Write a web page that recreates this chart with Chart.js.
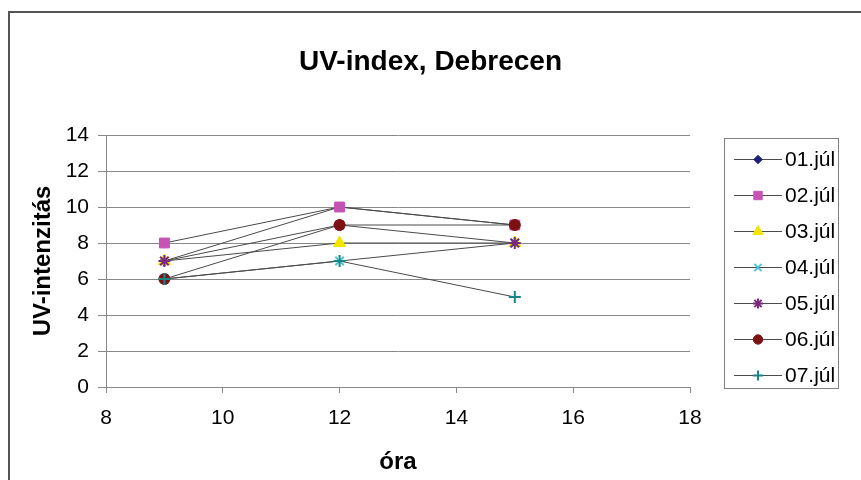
<!DOCTYPE html>
<html><head><meta charset="utf-8">
<script src="https://cdn.jsdelivr.net/npm/chart.js@4/dist/chart.umd.min.js"></script>
<style>
html,body{margin:0;padding:0;background:#fff;}
#wrap{position:relative;width:861px;height:480px;overflow:hidden;}
#frame{position:absolute;left:8px;top:11px;right:-4px;bottom:-4px;border-left:2px solid #555;border-top:2px solid #555;pointer-events:none;}
canvas{position:absolute;left:0;top:0;}
</style></head><body>
<div id="wrap"><canvas id="c" width="861" height="480"></canvas><div id="frame"></div></div>
<script>
// ---- data ----
const hours = [9, 12, 15];
const seriesNames = ['01.júl', '02.júl', '03.júl', '04.júl', '05.júl', '06.júl', '07.júl'];
const jul01 = [7, 10, 9];
const jul02 = [8, 10, 9];
const jul03 = [7, 8, 8];
const jul04 = [6, 7, 8];
const jul05 = [7, 9, 8];
const jul06 = [6, 9, 9];
const jul07 = [6, 7, 5];
const xTickValues = [8, 10, 12, 14, 16, 18];
const yTickValues = [0, 2, 4, 6, 8, 10, 12, 14];
const chartTitle = 'UV-index, Debrecen';
const xTitle = 'óra';
const yTitle = 'UV-intenzitás';

// ---- styles ----
const FONT = "'Liberation Sans', Arial, sans-serif";
const seriesValues = [jul01, jul02, jul03, jul04, jul05, jul06, jul07];
const styles = [
  {c:'#1f1f78', ps:'rectRot', r:5, bw:1},
  {c:'#c653b4', ps:'rect', r:7, bw:1},
  {c:'#f2e600', ps:'triangle', r:7, bw:1},
  {c:'#4cc6d6', ps:'crossRot', r:6, bw:2},
  {c:'#7a2a7a', ps:'star', r:6, bw:2},
  {c:'#7c1212', ps:'circle', r:5.5, bw:1},
  {c:'#1a8585', ps:'cross', r:6, bw:2}
];
const LINE = '#4a4a4a';

const datasets = seriesNames.map((name, i) => ({
  label: name,
  data: hours.map((h, k) => ({x: h, y: seriesValues[i][k]})),
  borderColor: LINE,
  borderWidth: 1,
  pointStyle: styles[i].ps,
  pointRadius: styles[i].r,
  pointHoverRadius: styles[i].r,
  pointBackgroundColor: styles[i].c,
  pointBorderColor: styles[i].c,
  pointBorderWidth: styles[i].bw,
  order: seriesNames.length - 1 - i,
  tension: 0,
  fill: false
}));

const boxLegend = {
  id: 'boxLegend',
  afterDraw(chart) {
    const ctx = chart.ctx;
    const left = 724, top = 138, w = 114, h = 250;
    ctx.save();
    ctx.strokeStyle = '#808080';
    ctx.lineWidth = 1;
    ctx.strokeRect(left + 0.5, top + 0.5, w, h);
    chart.data.datasets.forEach((ds, i) => {
      const y = 159 + i * 36;
      ctx.strokeStyle = LINE;
      ctx.lineWidth = 1;
      ctx.beginPath();
      ctx.moveTo(734, y + 0.5);
      ctx.lineTo(782, y + 0.5);
      ctx.stroke();
      ctx.fillStyle = ds.pointBackgroundColor;
      ctx.strokeStyle = ds.pointBorderColor;
      ctx.lineWidth = ds.pointBorderWidth;
      if (Chart.helpers && Chart.helpers.drawPoint) {
        Chart.helpers.drawPoint(ctx, {pointStyle: ds.pointStyle, rotation: 0, radius: ds.pointRadius * 0.85, borderWidth: ds.pointBorderWidth}, 758, y + 0.5);
      } else {
        ctx.beginPath(); ctx.arc(758, y + 0.5, 4, 0, Math.PI * 2); ctx.fill();
      }
      ctx.fillStyle = '#000';
      ctx.font = '21px ' + FONT;
      ctx.textBaseline = 'middle';
      ctx.textAlign = 'left';
      ctx.fillText(ds.label, 785, y + 1);
    });
    ctx.restore();
  }
};

new Chart(document.getElementById('c'), {
  type: 'line',
  data: {datasets},
  plugins: [boxLegend],
  options: {
    responsive: false,
    animation: false,
    layout: {padding: {left: 0, right: 0, top: 0, bottom: 3}},
    plugins: {
      legend: {display: false},
      tooltip: {enabled: false},
      title: {
        display: true,
        text: chartTitle,
        color: '#000',
        font: {family: FONT, size: 28, weight: 'bold', lineHeight: 1.2},
        padding: {top: 45, bottom: 56.4}
      }
    },
    scales: {
      x: {
        type: 'linear',
        min: xTickValues[0],
        max: xTickValues[xTickValues.length - 1],
        afterBuildTicks: s => { s.ticks = xTickValues.map(v => ({value: v})); },
        afterFit: s => { s.height = 90; },
        ticks: {color: '#000', font: {family: FONT, size: 21}, padding: 13, maxRotation: 0, autoSkip: false},
        grid: {display: true, drawOnChartArea: false, drawTicks: true, tickLength: 6, color: '#888'},
        border: {display: true, color: '#888', width: 1},
        title: {display: true, text: xTitle, color: '#000', padding: {top: 0, bottom: 0}, font: {family: FONT, size: 24, weight: 'bold', lineHeight: 1.2}}
      },
      y: {
        type: 'linear',
        min: yTickValues[0],
        max: yTickValues[yTickValues.length - 1],
        afterBuildTicks: s => { s.ticks = yTickValues.map(v => ({value: v})); },
        afterFit: s => { s.width = 106; },
        ticks: {color: '#000', font: {family: FONT, size: 21}, padding: 9},
        grid: {color: '#888', tickLength: 8, lineWidth: 1},
        border: {display: true, color: '#888', width: 1},
        title: {display: true, text: yTitle, color: '#000', padding: {top: 29, bottom: 0}, font: {family: FONT, size: 24, weight: 'bold', lineHeight: 1.2}}
      },
      yRight: {
        type: 'linear',
        position: 'right',
        display: true,
        min: 0, max: 14,
        afterFit: s => { s.width = 171; },
        ticks: {display: false},
        grid: {display: false, drawTicks: false},
        border: {display: false},
        title: {display: false}
      }
    }
  }
});
</script>
</body></html>
